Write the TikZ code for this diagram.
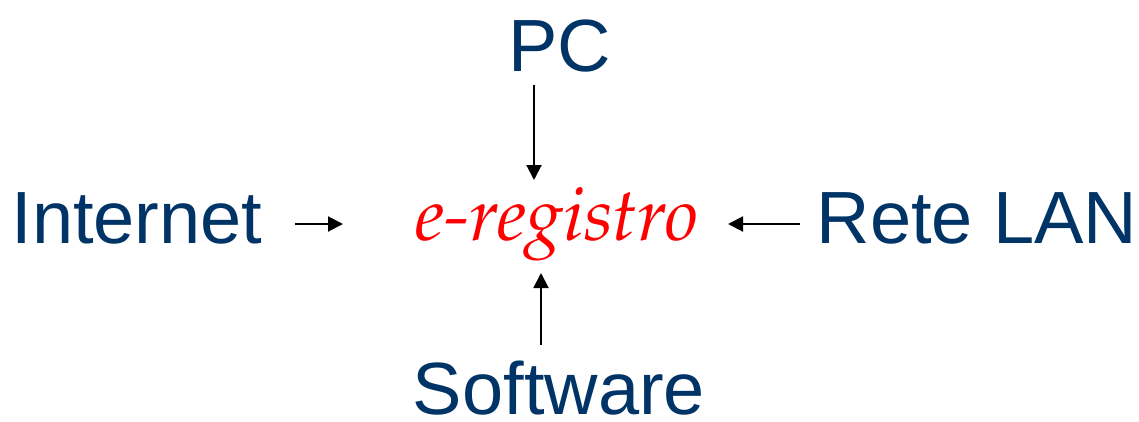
\documentclass[tikz,border=0pt]{standalone}
\usepackage[T1]{fontenc}
\usepackage{fontspec}
\setsansfont{Liberation Sans}
\usetikzlibrary{arrows.meta}
\definecolor{navy}{RGB}{0,51,102}

\begin{document}
\begin{tikzpicture}[x=1pt,y=-1pt,
  word/.style={anchor=base,inner sep=0pt,text=navy,font=\sffamily\fontsize{74}{80}\selectfont},
  arr/.style={line width=2pt,-{Triangle[length=15pt,width=15pt]}}]
\useasboundingbox (0,0) rectangle (1139,421);
\node (e)[anchor=base,inner sep=0pt,text=red,font={\fontencoding{T1}\fontfamily{ppl}\fontshape{it}\selectfont\fontsize{74.5}{80}\selectfont}] at (557,240) {e-registro};
\foreach \name/\x/\y/\label in {pc/560/71/PC,inet/137/243/Internet,lan/977/243/Rete LAN,sw/559/414/Software}
\node[word] (\name) at (\x,\y) {\label};
% loose ends of the arrows
\coordinate (pc-a) at (534,85);   \coordinate (pc-b) at (534,180);
\coordinate (inet-a) at (295,224); \coordinate (inet-b) at (343,224);
\coordinate (lan-a) at (800,224);  \coordinate (lan-b) at (728,224);
\coordinate (sw-a) at (541,345);   \coordinate (sw-b) at (541,273);
\foreach \name in {pc,inet,lan,sw}
\draw[arr] (\name-a) -- (\name-b);
\end{tikzpicture}
\end{document}
